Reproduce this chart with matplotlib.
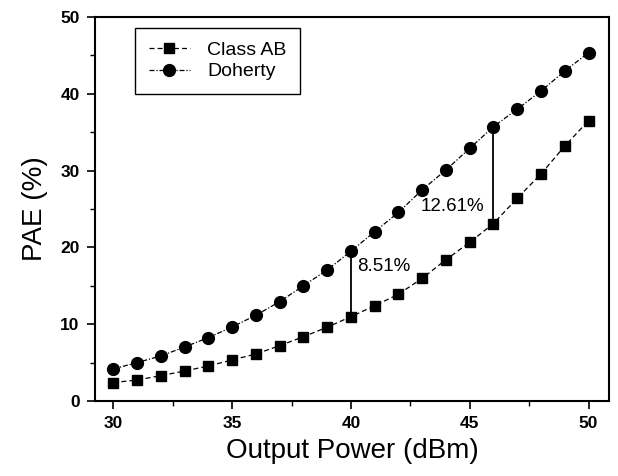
import matplotlib
matplotlib.use("Agg")
import matplotlib.pyplot as plt
from matplotlib.ticker import MultipleLocator

plt.rcParams['font.family'] = ['Liberation Sans', 'DejaVu Sans']

power = list(range(30, 51))
class_ab = [2.4, 2.73, 3.3, 3.9, 4.56, 5.34, 6.12, 7.2, 8.37, 9.6, 10.98,
            12.4, 13.9, 15.97, 18.4, 20.66, 23.11, 26.4, 29.56, 33.2, 36.5]
doherty = [4.17, 5.0, 5.86, 7.03, 8.25, 9.64, 11.16, 12.93, 15.0, 17.06, 19.49,
           22.05, 24.55, 27.5, 30.08, 32.9, 35.72, 38.0, 40.36, 42.97, 45.35]
gap_x = [40, 46]
gap_labels = ["8.51%", "12.61%"]

fig = plt.figure(figsize=(6.18, 4.76), dpi=100)
ax = fig.add_axes([0.1537, 0.1576, 0.8317, 0.8067])

ax.plot(power, class_ab, color='black', linestyle=(0, (4, 2.5)), linewidth=0.9,
        marker='s', markersize=7.5, label='Class AB')
ax.plot(power, doherty, color='black', linestyle=(0, (4, 1.5, 1, 1.5)), linewidth=0.9,
        marker='o', markersize=8.5, label='Doherty')

for gx in gap_x:
    i = power.index(gx)
    ax.plot([gx, gx], [class_ab[i], doherty[i]], color='black', linewidth=1.3)

ax.text(40.27, 17.45, gap_labels[0], fontsize=13.5, va='center', ha='left')
ax.text(45.63, 25.3, gap_labels[1], fontsize=13.5, va='center', ha='right')

ax.set_xlim(29.23, 50.86)
ax.set_ylim(0, 50)
ax.xaxis.set_major_locator(MultipleLocator(5))
ax.xaxis.set_minor_locator(MultipleLocator(2.5))
ax.yaxis.set_major_locator(MultipleLocator(10))
ax.yaxis.set_minor_locator(MultipleLocator(5))
ax.tick_params(which='major', direction='out', length=6, width=1.2, labelsize=12.5, pad=5)
ax.tick_params(which='minor', direction='out', length=3.5, width=1.0)
for lab in ax.get_xticklabels() + ax.get_yticklabels():
    lab.set_fontweight('bold')
for s in ax.spines.values():
    s.set_linewidth(1.5)

ax.set_xlabel('Output Power (dBm)', fontsize=20, labelpad=5)
ax.set_ylabel('PAE (%)', fontsize=20, labelpad=9)

leg = ax.legend(loc='upper left', bbox_to_anchor=(0.078, 0.972), borderaxespad=0,
                fancybox=False, edgecolor='black', framealpha=1, fontsize=14,
                handlelength=2.1, handletextpad=0.9, labelspacing=0.2, borderpad=0.7)
leg.get_frame().set_linewidth(1.0)

fig.savefig('out.png', dpi=100)
